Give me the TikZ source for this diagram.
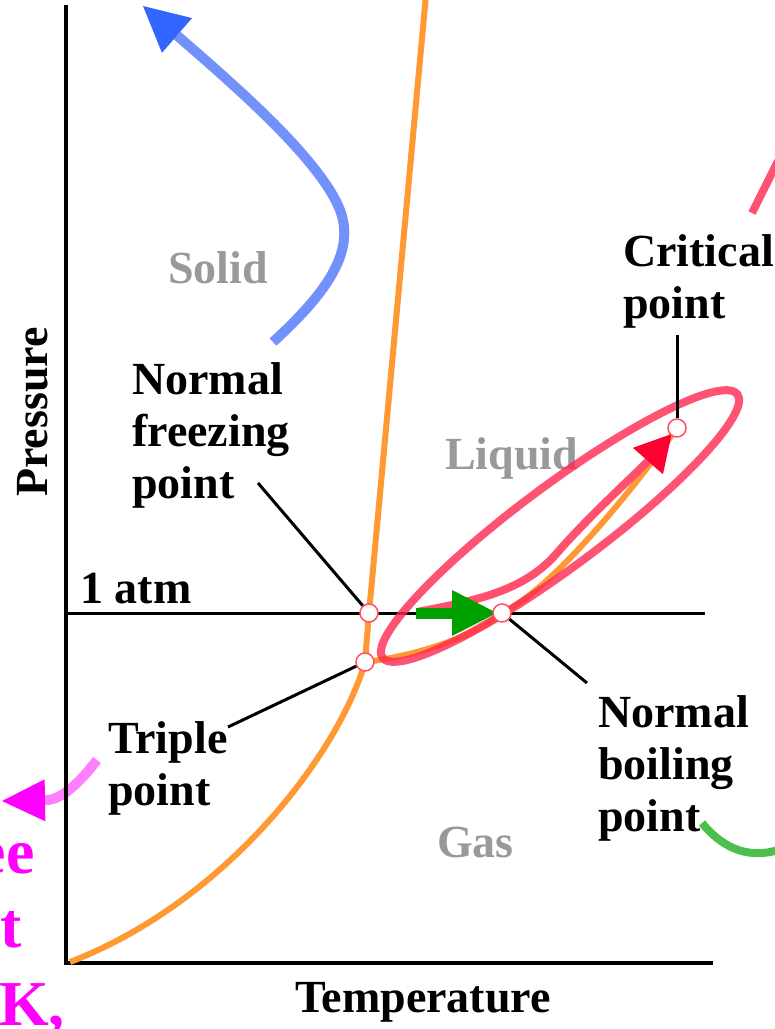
\documentclass[tikz,border=0pt]{standalone}
\usepackage{xcolor}
\usepackage{fontspec}
\setmainfont{Liberation Serif}
\usepackage{tikz}
\usetikzlibrary{arrows.meta}

\definecolor{curveorange}{RGB}{255,153,51}
\definecolor{hoopred}{RGB}{255,40,80}
\definecolor{hooppink}{RGB}{255,80,110}
\definecolor{tipred}{RGB}{255,0,51}
\definecolor{arrowgreen}{RGB}{0,160,0}
\definecolor{lineblue}{RGB}{115,145,250}
\definecolor{tipblue}{RGB}{51,102,255}
\definecolor{linemagenta}{RGB}{255,128,255}
\definecolor{notemagenta}{RGB}{255,0,255}
\definecolor{lightgreen}{RGB}{76,192,76}
\definecolor{phasegray}{RGB}{153,153,153}
\definecolor{markred}{RGB}{255,80,100}

\begin{document}
\begin{tikzpicture}[
    x=1pt, y=-1pt,
    lbl/.style={font=\bfseries\fontsize{46}{52}\selectfont, inner sep=0pt,
                align=left, anchor=base west},
    phase/.style={lbl, text=phasegray},
    note/.style={font=\bfseries\fontsize{64}{75}\selectfont, inner sep=0pt,
                 text=notemagenta},
    ptmark/.style={circle, draw=markred, fill=white, line width=1.5pt,
                   minimum size=18pt, inner sep=0pt},
    curve/.style={draw=curveorange, line width=6pt},
    hoop/.style={draw=hoopred, draw opacity=0.8, line width=8pt},
    leader/.style={draw=black, line width=3pt},
    axis/.style={draw=black, line width=4pt}
]
\useasboundingbox (0,0) rectangle (775,1029);

\coordinate (nfpc) at (369,613);
\coordinate (tpc) at (365,662);
\coordinate (nbpc) at (502,613);
\coordinate (cpc) at (677,428);

% pointer off to the left, under the axis
\draw[draw=linemagenta, line width=10pt,
      -{Triangle[length=43pt, width=42pt, line width=0pt, color=notemagenta]}]
    (97,760) .. controls (80,782) and (62,800) .. (2,801);

% axes and the 1 atm level
\draw[axis] (66,5) -- (66,965);
\draw[axis] (64,963) -- (713,963);
\draw[black, line width=3pt] (68,613) -- (705,613);

\node[phase] (solid) at (168,283) {Solid};
\node[phase] (liquid) at (445,469) {Liquid};
\node[phase] (gas) at (437,857) {Gas};

% phase boundaries
\draw[curve] (426,-5) -- (nfpc) -- (tpc);
\draw[curve] (tpc) .. controls (340,750) and (230,900) .. (70,962);
\draw[curve] (tpc) .. controls (415,656) and (472,638) .. (nbpc)
    .. controls (550,590) and (625,500) .. (cpc);

% liquid-gas region
\draw[hoop, rotate around={36.6:(560,526)}]
    (560,526) ellipse [x radius=221pt, y radius=41pt];
\draw[draw=hooppink, line width=8pt, shorten >=8pt,
      -{Triangle[length=36pt, width=40pt, line width=0pt, color=tipred]}]
    (417,612) .. controls (480,600) and (525,590) .. (557,553)
    .. controls (590,515) and (640,470) .. (cpc);
\draw[draw=arrowgreen, line width=11pt, shorten >=5pt,
      -{Triangle[length=45pt, width=46pt, line width=0pt, color=arrowgreen]}]
    (416,613) -- (nbpc);

% other arrows
\draw[draw=lineblue, line width=10pt,
      -{Triangle[length=45pt, width=46pt, line width=0pt, color=tipblue]}]
    (273,342) .. controls (330,290) and (355,250) .. (340,210)
    .. controls (320,160) and (240,90) .. (143,6);
\draw[draw=lightgreen, line width=8pt]
    (702,823) .. controls (720,845) and (745,860) .. (778,850);
\draw[hoop] (752,213) -- (778,161);

% marked points
\node[ptmark] (nfp) at (nfpc) {};
\node[ptmark] (tp) at (tpc) {};
\node[ptmark] (nbp) at (nbpc) {};
\node[ptmark] (cp) at (cpc) {};

\coordinate (cplead) at (677,335);
\coordinate (nflead) at (258,483);
\coordinate (tplead) at (228,727);
\coordinate (nblead) at (587,683);
\draw[leader] (cplead) -- (cp);
\draw[leader] (nflead) -- (nfp);
\draw[leader] (tplead) -- (tp);
\draw[leader] (nbp) -- (nblead);

\node[lbl] (critical) at (623,318) {Critical\\point};
\node[lbl] (freezing) at (132,498) {Normal\\freezing\\point};
\node[lbl] (triple) at (108,805) {Triple\\point};
\node[lbl] (boiling) at (598,831) {Normal\\boiling\\point};
\node[lbl] (atm) at (80,603) {1 atm};
\node[lbl] (temp) at (295,1012) {Temperature};
\node[lbl, rotate=90] (press) at (47,497) {Pressure};

\node[note, anchor=base east] (noteA) at (35,873) {ee};
\node[note, anchor=base east] (noteB) at (22,947) {t};
\node[note, anchor=base west] (noteC) at (-1,1025) {K,};
\end{tikzpicture}
\end{document}
